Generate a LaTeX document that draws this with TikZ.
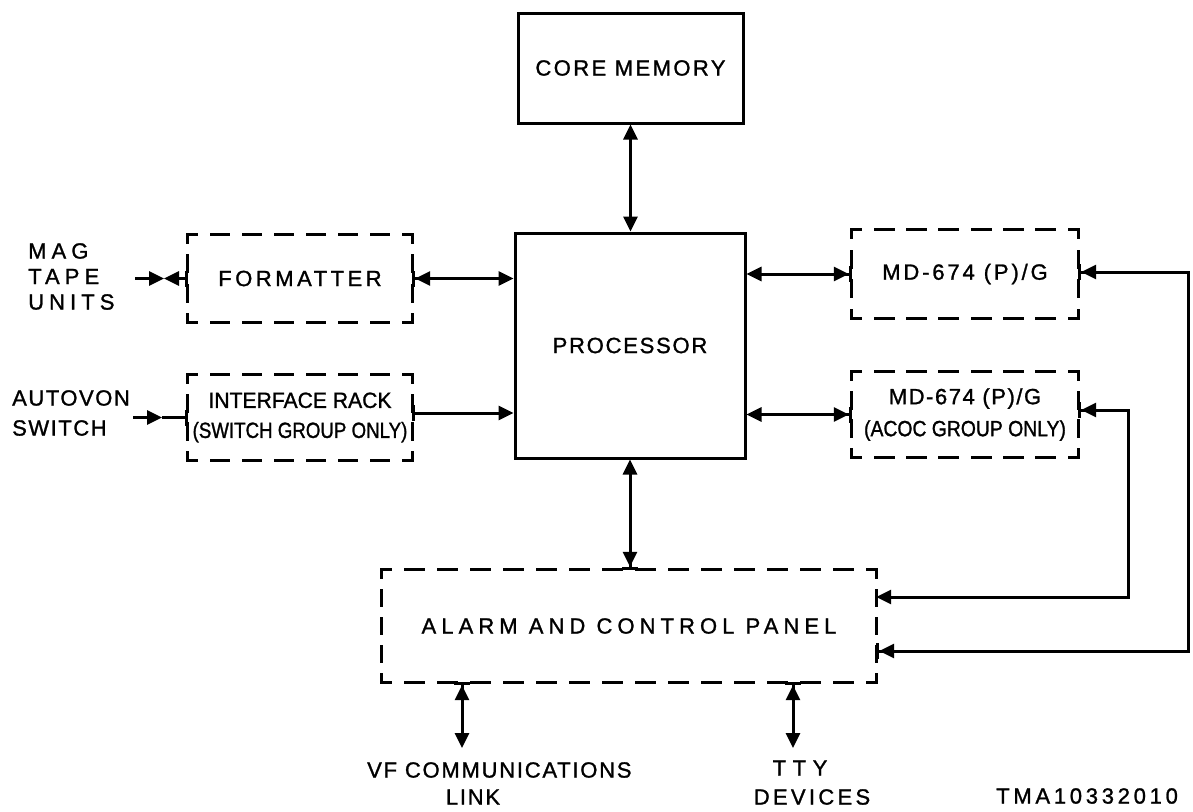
\documentclass[tikz,border=0pt]{standalone}
\usepackage{fontspec}
\setmainfont{Liberation Sans}
\usetikzlibrary{arrows.meta}
\newcommand\ff[3]{\fontsize{22}{#3}\selectfont\addfontfeatures{FakeStretch=#1,LetterSpace=#2,FakeBold=1.2}}
\newcommand\dsSide[2]{%
  \path (#1); \pgfgetlastxy{\dsAx}{\dsAy}%
  \path (#2); \pgfgetlastxy{\dsBx}{\dsBy}%
  \pgfmathsetmacro\dsL{veclen(\dsBx-\dsAx,\dsBy-\dsAy)}%
  \pgfmathsetmacro\dsN{max(1,round(\dsL/32))}%
  \pgfmathsetmacro\dsP{\dsL/\dsN}%
  \pgfmathsetmacro\dsOn{0.55*\dsP}%
  \pgfmathsetmacro\dsOff{0.45*\dsP}%
  \pgfmathsetmacro\dsPh{0.275*\dsP}%
  \draw[dline, dash pattern=on \dsOn pt off \dsOff pt, dash phase=\dsPh pt] (#1) -- (#2);}
\newcommand\dsBox[1]{%
  \dsSide{#1.north west}{#1.north east}%
  \dsSide{#1.north east}{#1.south east}%
  \dsSide{#1.south east}{#1.south west}%
  \dsSide{#1.south west}{#1.north west}}
\begin{document}
\begin{tikzpicture}[x=1pt,y=-1pt,
  box/.style={draw, line width=3pt, inner sep=0pt, align=center},
  dbox/.style={inner sep=0pt, align=center},
  dline/.style={line width=3pt, line cap=rect},
  lbl/.style={inner sep=0pt},
  conn/.style={line width=3pt},
  both/.style={arrows={Triangle[length=15pt,width=14pt]}-{Triangle[length=15pt,width=14pt]}},
  bothbar/.style={arrows={Triangle[length=15pt,width=14pt]}-{Triangle[length=15pt,width=14pt]Bar[width=16pt]}},
  tobar/.style={arrows=-{Triangle[length=15pt,width=14pt]Bar[width=16pt]}},
  toarr/.style={arrows=-{Triangle[length=15pt,width=14pt]}},
  barto/.style={arrows={Bar[width=16pt]}-{Triangle[length=15pt,width=14pt]}},
  tribar/.style={arrows={Triangle[length=15pt,width=14pt]}-{Bar[width=16pt]}},
  justbar/.style={arrows=-{Bar[width=16pt]}}]
\useasboundingbox[fill=white] (0,0) rectangle (1193,811);

% boxes
\node[box, minimum width=225pt, minimum height=110pt, font=\ff{1}{11}{30}] (core) at (630.5,68) {CORE MEMORY};
\node[box, minimum width=230pt, minimum height=225pt, font=\ff{1}{8}{30}] (proc) at (630,345.5) {PROCESSOR};
\node[dbox, minimum width=224pt, minimum height=87pt, font=\ff{1}{16}{30}] (fmt) at (300,278.5) {FORMATTER};
\node[dbox, minimum width=224pt, minimum height=85pt, font=\ff{0.96}{0}{30}] (ifr) at (300,417.5) {INTERFACE RACK\\\addfontfeatures{FakeStretch=0.85}(SWITCH GROUP ONLY)};
\node[dbox, minimum width=226pt, minimum height=88pt, font=\ff{1}{13}{30}] (md1) at (965,274) {MD-674 (P)/G};
\node[dbox, minimum width=226pt, minimum height=85pt, font=\ff{1}{7}{32}] (md2) at (965,414.5) {MD-674 (P)/G\\\addfontfeatures{FakeStretch=0.88,LetterSpace=0}(ACOC GROUP ONLY)};
\node[dbox, minimum width=494pt, minimum height=112pt, font=\ff{1}{23}{30}] (alarm) at (629,626) {ALARM AND CONTROL PANEL};
\dsBox{fmt}
\dsBox{ifr}
\dsBox{md1}
\dsBox{md2}
\dsBox{alarm}

% outside labels
\node[lbl, anchor=west, align=left, font=\ff{1}{23}{25.5}] (mag) at (28,276.5) {MAG\\TAPE\\UNITS};
\node[lbl, anchor=west, align=left, font=\ff{1}{7}{30}] (auto) at (12,413) {AUTOVON\\SWITCH};
\node[lbl, anchor=west, font=\ff{1}{8}{30}] (vf1) at (367,770) {VF COMMUNICATIONS};
\node[lbl, font=\ff{1}{8}{30}] (vf2) at (473,797) {LINK};
\node[lbl, font=\ff{1}{30}{30}] (tty1) at (800,768) {TTY};
\node[lbl, font=\ff{1}{15}{30}] (tty2) at (812,797) {DEVICES};
\node[lbl, anchor=west, font=\ff{1}{17}{30}] (tma) at (996,796) {TMA10332010};

% free ends and corners
\coordinate (magend) at (135,278.5);
\coordinate (magmid) at (164,278.5);
\coordinate (autoend) at (133,417.5);
\coordinate (automid) at (162,417.5);
\coordinate (vfend) at (462,748);
\coordinate (ttyend) at (793,748);
\coordinate (r1) at (1188,272);
\coordinate (r2) at (1128,410);

% connectors
\draw[conn, both] (core.south) -- (core.south |- proc.north);
\draw[conn, bothbar] (proc.south) -- (proc.south |- alarm.north);
\draw[conn, bothbar] (proc.west |- fmt.east) -- (fmt.east);
\draw[conn, barto] ([yshift=4.5pt]ifr.east) -- ([yshift=4.5pt]ifr.east -| proc.west);
\draw[conn, bothbar] (proc.east |- md1.west) -- (md1.west);
\draw[conn, bothbar] (proc.east |- md2.west) -- (md2.west);
\draw[conn, tobar, line cap=rect] (r1) -- (r1 -| md1.east);
\draw[conn, tobar, line cap=rect] (r1) |- ([yshift=-25pt]alarm.east);
\draw[conn, tobar, line cap=rect] (r2) -- (r2 -| md2.east);
\draw[conn, toarr, line cap=rect] (r2) |- ([yshift=29pt]alarm.east);
\draw[conn, toarr] (magend) -- (magmid);
\draw[conn, tribar] (magmid) -- (fmt.west);
\draw[conn, toarr] (autoend) -- (automid);
\draw[conn, justbar] (automid) -- (ifr.west |- automid);
\draw[conn, bothbar] (vfend) -- (alarm.south -| vfend);
\draw[conn, bothbar] (ttyend) -- (alarm.south -| ttyend);
\end{tikzpicture}
\end{document}
